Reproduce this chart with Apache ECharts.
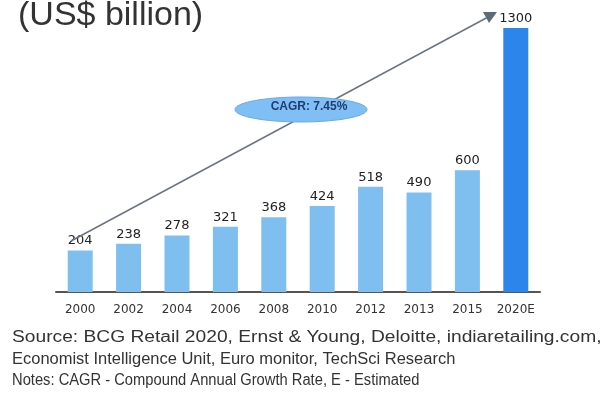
<!DOCTYPE html>
<html>
<head>
<meta charset="utf-8">
<script src="https://cdn.jsdelivr.net/npm/echarts@6/dist/echarts.min.js"></script>
<style>
  html, body { margin: 0; padding: 0; background: #fff; }
  #chart { width: 603px; height: 403px; }
</style>
</head>
<body>
<div id="chart"></div>
<script>
// Retail market size by year (US$ billion)
const years = ['2000', '2002', '2004', '2006', '2008', '2010', '2012', '2013', '2015', '2020E'];
const marketSize = [204, 238, 278, 321, 368, 424, 518, 490, 600, 1300];
const estimatedYear = '2020E';

const sourceLines = [
  'Source: BCG Retail 2020, Ernst & Young, Deloitte, indiaretailing.com,',
  'Economist Intelligence Unit, Euro monitor, TechSci Research',
  'Notes: CAGR - Compound Annual Growth Rate, E - Estimated'
];
// horizontal stretch applied to each footnote line
const sourceStretch = [1.2, 1.03, 0.92];

const FONT = '"Liberation Sans", Arial, sans-serif';
const WIDE = '"DejaVu Sans", Verdana, sans-serif';
const chart = echarts.init(document.getElementById('chart'), null, { renderer: 'canvas' });

const footnotes = sourceLines.map((line, i) => ({
  type: 'text',
  x: 12,
  y: 338 + i * 21.5,
  originX: 0,
  originY: 0,
  scaleX: sourceStretch[i],
  style: {
    text: line, fill: '#333', font: '16px ' + FONT,
    verticalAlign: 'middle'
  }
}));

chart.setOption({
  backgroundColor: '#ffffff',
  animation: false,
  textStyle: { fontFamily: FONT },
  grid: { left: 56, right: 63, top: 28, bottom: 111 },
  xAxis: {
    type: 'category',
    data: years,
    axisLine: { lineStyle: { color: '#555', width: 2 } },
    axisTick: { show: false },
    axisLabel: { interval: 0, color: '#333', fontSize: 12, margin: 12, fontFamily: WIDE }
  },
  yAxis: {
    type: 'value',
    min: 0,
    max: 1300,
    show: false,
    splitLine: { show: false }
  },
  series: [{
    type: 'bar',
    barWidth: 25,
    data: marketSize.map((v, i) => ({
      value: v,
      itemStyle: { color: years[i] === estimatedYear ? '#2c85ea' : '#7fbff0' }
    })),
    label: {
      show: true,
      position: 'top',
      distance: 3,
      color: '#222',
      fontSize: 13,
      fontFamily: WIDE
    }
  }],
  graphic: [
    {
      type: 'text', x: 18, y: 16,
      style: { text: '(US$ billion)', fill: '#333', font: '34px ' + FONT, verticalAlign: 'middle' }
    },
    // growth trend arrow
    {
      type: 'line', z: 10,
      shape: { x1: 71, y1: 241, x2: 490, y2: 16 },
      style: { stroke: '#6b7580', lineWidth: 1.5 }
    },
    {
      type: 'polygon', z: 10,
      shape: { points: [[497, 12], [483, 12], [489, 23]] },
      style: { fill: '#5d6b78' }
    },
    // CAGR callout
    {
      type: 'ellipse', z: 11,
      shape: { cx: 301, cy: 109.5, rx: 66, ry: 12.5 },
      style: { fill: '#80bff5', stroke: '#6aa9e6', lineWidth: 1 }
    },
    {
      type: 'text', z: 12, x: 309, y: 107,
      style: {
        text: 'CAGR: 7.45%', fill: '#1f3d70', font: 'bold 12px ' + FONT,
        align: 'center', verticalAlign: 'middle'
      }
    }
  ].concat(footnotes)
});
</script>
</body>
</html>
